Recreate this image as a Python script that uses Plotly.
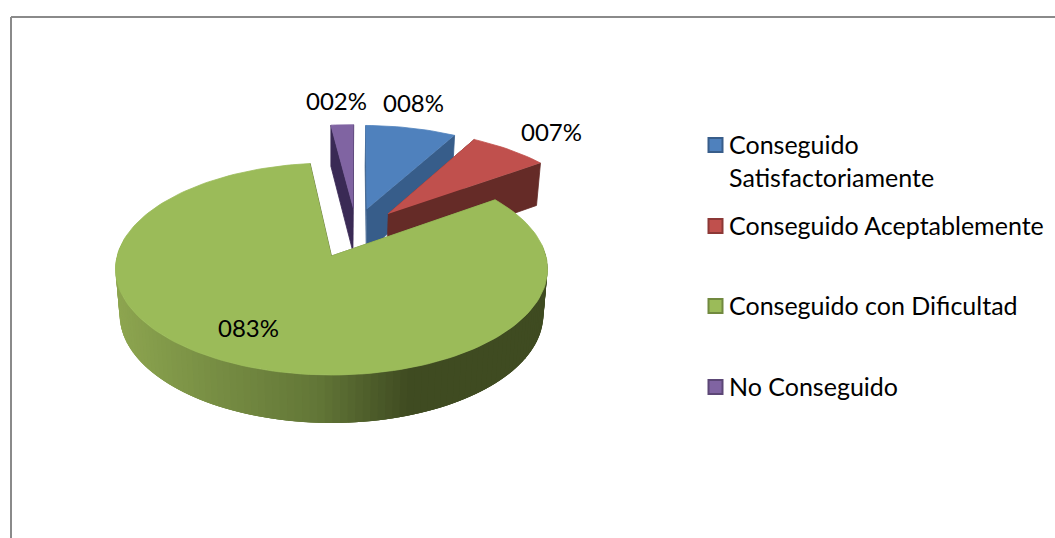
import numpy as np
import plotly.graph_objects as go

# Chart data
categories = ["Conseguido<br>Satisfactoriamente", "Conseguido Aceptablemente",
              "Conseguido con Dificultad", "No Conseguido"]
values = [8, 7, 83, 2]
value_labels = ["008%", "007%", "083%", "002%"]

# Slice styling
top_colors = ["#4f81bd", "#c0504d", "#9bbb59", "#8064a2"]
wall_colors = ["#375d8a", "#652b27", "#5f7335", "#3a2a55"]
key_edges = ["#385d8a", "#8c3836", "#71893f", "#5c4776"]

# Explosion of every slice, in units of the pie radius on the pie plane
pull_u = [0.175, 0.277, 0.0, 0.108]
pull_v = [0.477, 0.423, 0.0, 0.487]
START_ANGLE = 0.8

# Perspective of the pie plane on the page
CX, APEX_Y = 331.5, 256.0
SCALE_X, SLOPE_Y, PERSP = 214.4, -73.0, 0.1226
WALL_NEAR, WALL_SLOPE, BASE_SHRINK = 45.2, -2.82, 0.981

FONT = "Lato, Carlito, Calibri, sans-serif"
LABEL_X = [413, 551, 248, 336]
LABEL_Y = [102.5, 131.5, 327.5, 100.5]
KEY_X = 715.5
KEY_Y = [145, 226, 306, 387]
TEXT_X = 727


def top_point(u, v):
    w = 1 + PERSP * v
    return CX + SCALE_X * u / w, (SLOPE_Y * v + APEX_Y) / w


def base_point(u, v):
    x, y = top_point(u, v)
    return CX + (x - CX) * BASE_SHRINK, y + WALL_NEAR + WALL_SLOPE * v


def polygon(xs, ys, colour, outline=0.8):
    return go.Scatter(x=xs, y=ys, mode="lines", fill="toself", fillcolor=colour,
                      line=dict(color=colour, width=outline), hoverinfo="skip",
                      showlegend=False)


def green_wall_colour(x):
    # Shading along the rim of the large slice, dark towards the lower right
    stops_x = [115, 200, 330, 420, 548]
    r = np.interp(x, stops_x, [0x8e, 0x7c, 0x62, 0x3f, 0x3f])
    g = np.interp(x, stops_x, [0xa6, 0x93, 0x76, 0x4b, 0x4b])
    b = np.interp(x, stops_x, [0x50, 0x46, 0x37, 0x21, 0x21])
    return f"rgb({r:.0f},{g:.0f},{b:.0f})"


fig = go.Figure()

edges = START_ANGLE + np.concatenate([[0], np.cumsum(values)]) / sum(values) * 360
for i in [3, 0, 1, 2]:
    th = np.radians(np.linspace(edges[i], edges[i + 1], max(6, int(values[i] * 2))))
    us = pull_u[i] + np.sin(th)
    vs = pull_v[i] + np.cos(th)
    apex_u, apex_v = pull_u[i], pull_v[i]

    # Flat cut walls on both sides of the slice
    for u, v in [(us[0], vs[0]), (us[-1], vs[-1])]:
        pts = [top_point(apex_u, apex_v), top_point(u, v),
               base_point(u, v), base_point(apex_u, apex_v)]
        fig.add_trace(polygon([p[0] for p in pts], [p[1] for p in pts], wall_colors[i]))

    # Rounded outer wall: overlapping strips, painted left to right so seams stay hidden
    order = np.argsort([top_point(u, v)[0] for u, v in zip(us, vs)])
    front = [j for j in order if vs[j] - apex_v < 0.1 and j + 1 < len(th)]
    for j in front:
        k = min(j + 2, len(th) - 1)
        m = max(j - 1, 0)
        idx = range(m, k + 1)
        upper = [top_point(us[n], vs[n]) for n in idx]
        lower = [base_point(us[n], vs[n]) for n in idx]
        p = upper + lower[::-1]
        xm = top_point(us[j], vs[j])[0]
        colour = green_wall_colour(xm) if i == 2 else wall_colors[i]
        fig.add_trace(polygon([q[0] for q in p], [q[1] for q in p], colour, outline=0))

    # Top face
    face = [top_point(apex_u, apex_v)] + [top_point(u, v) for u, v in zip(us, vs)]
    fig.add_trace(polygon([q[0] for q in face], [q[1] for q in face], top_colors[i]))

# Legend keys
fig.add_trace(go.Scatter(
    x=[KEY_X] * len(categories), y=KEY_Y, mode="markers", hoverinfo="skip", showlegend=False,
    marker=dict(symbol="square", size=14, color=top_colors,
                line=dict(color=key_edges, width=2))))

annotations = []
for text, x, y in zip(value_labels, LABEL_X, LABEL_Y):
    annotations.append(dict(x=x, y=y, text=text, showarrow=False, xanchor="center",
                            yanchor="middle", font=dict(family=FONT, size=24, color="#000000")))
for name, y in zip(categories, KEY_Y):
    annotations.append(dict(x=TEXT_X, y=y - 18, text=name, showarrow=False, xanchor="left",
                            yanchor="top", align="left",
                            font=dict(family=FONT, size=25, color="#000000")))

frame = dict(color="#8a8a8a", width=2)
fig.update_layout(
    width=1055, height=538, autosize=False,
    margin=dict(l=0, r=0, t=0, b=0),
    paper_bgcolor="#ffffff", plot_bgcolor="#ffffff",
    xaxis=dict(range=[0, 1055], visible=False, fixedrange=True),
    yaxis=dict(range=[538, 0], visible=False, fixedrange=True),
    annotations=annotations,
    shapes=[
        dict(type="line", xref="x", yref="y", x0=11, y0=17, x1=1055, y1=17, line=frame),
        dict(type="line", xref="x", yref="y", x0=11, y0=17, x1=11, y1=538, line=frame),
    ],
)

fig.write_html("out.html")
